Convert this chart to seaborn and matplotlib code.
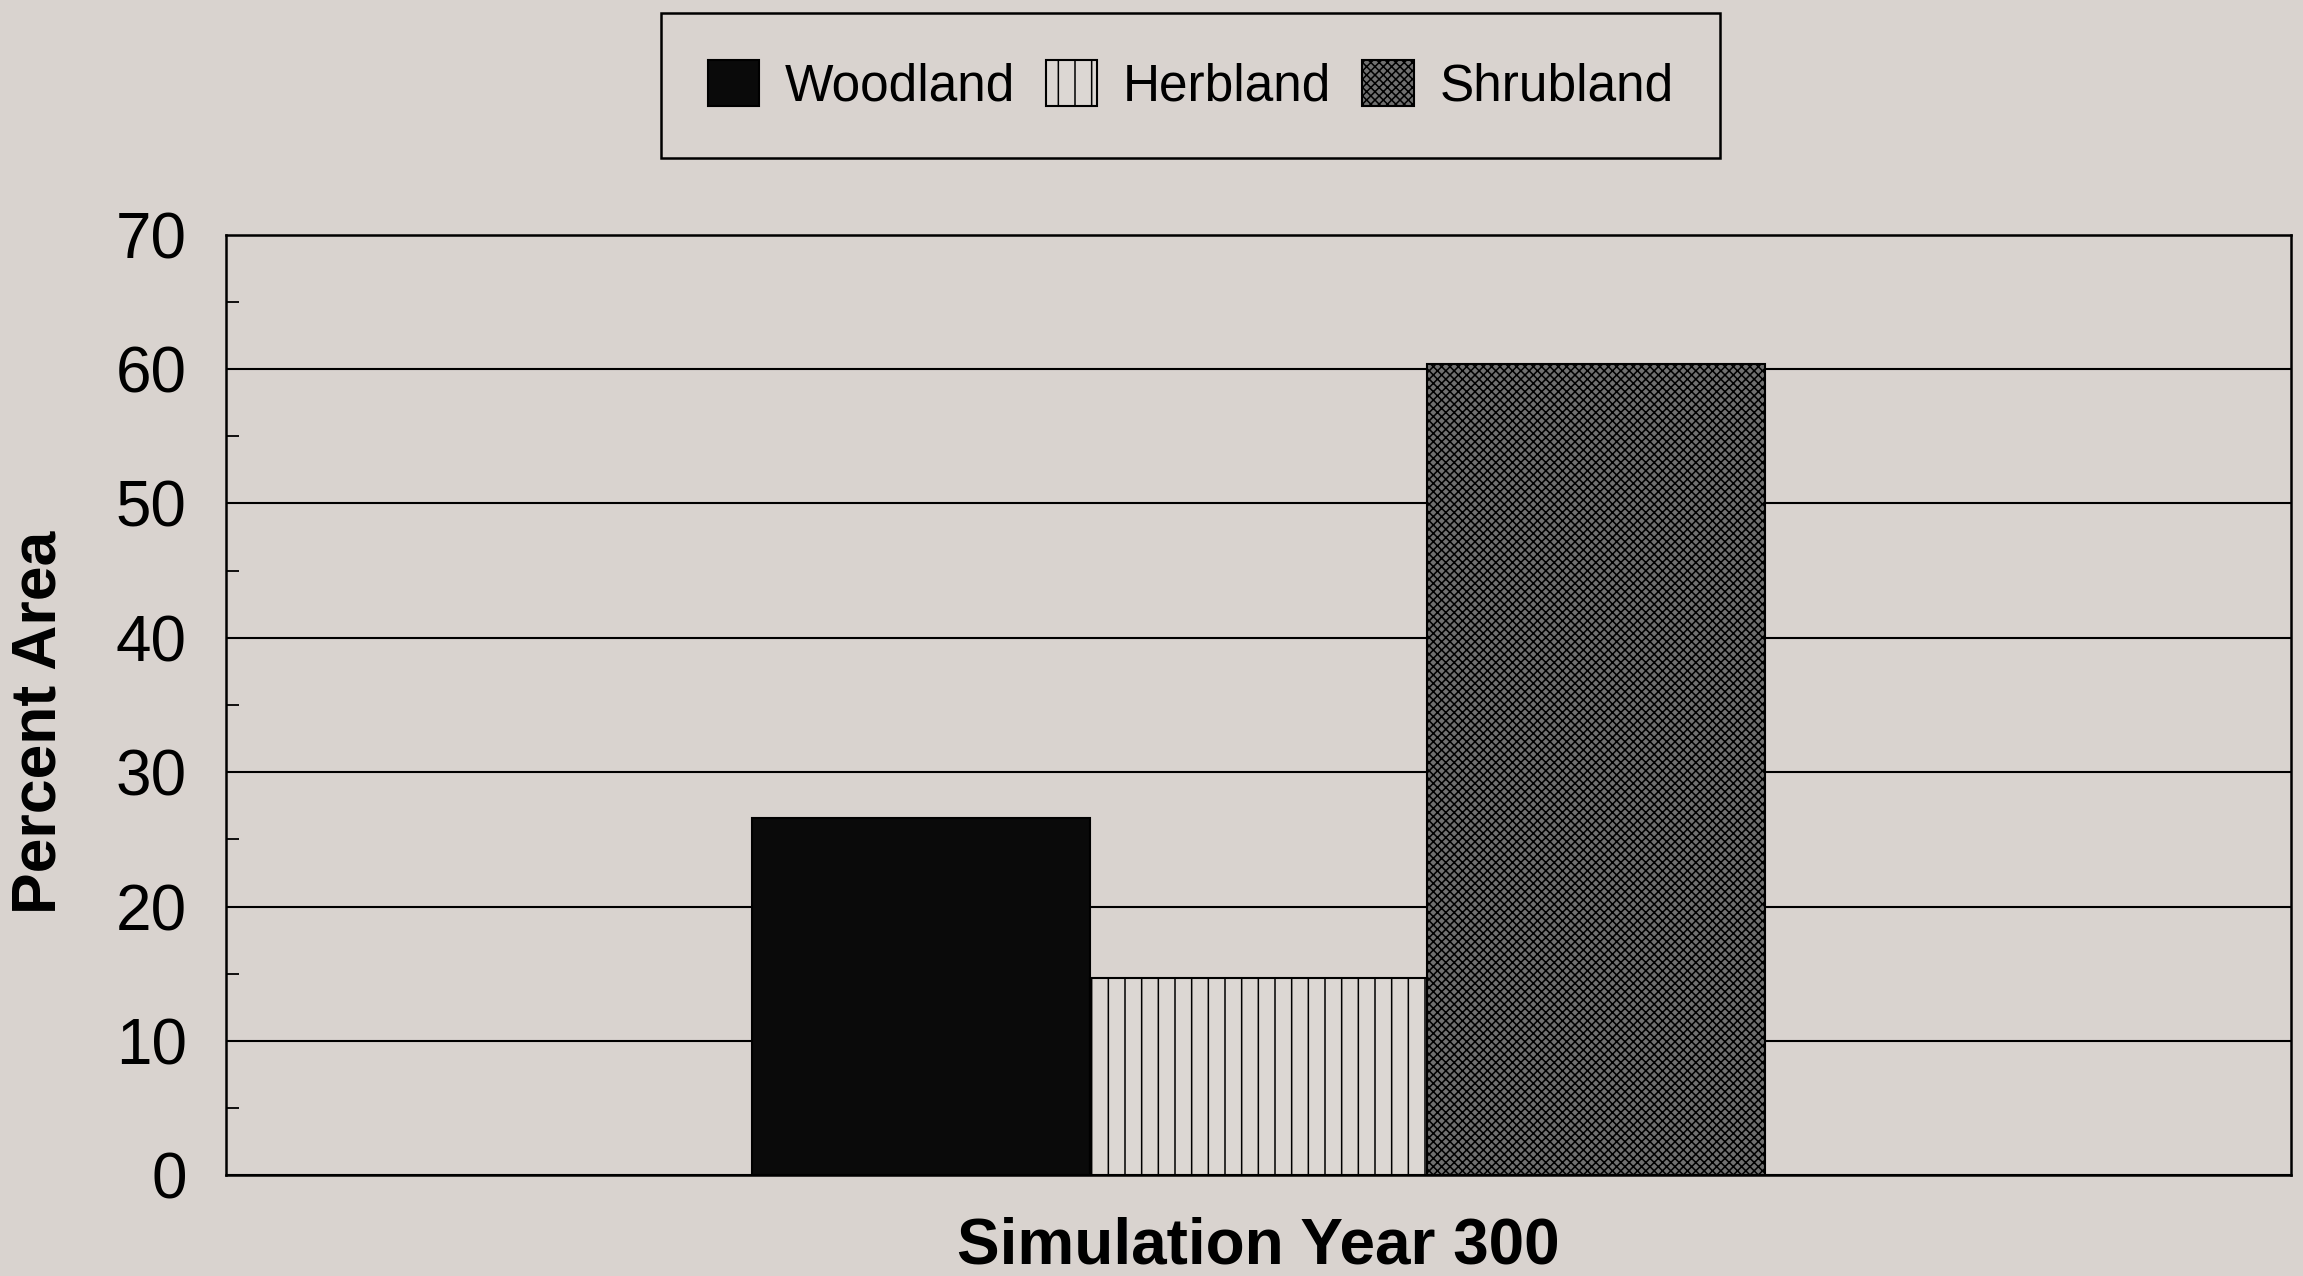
import pandas as pd
import matplotlib
matplotlib.use("Agg")
import matplotlib.pyplot as plt
import seaborn as sns

# values
covers = ['Woodland', 'Herbland', 'Shrubland']
percent_area = [26.6, 14.7, 60.4]
year_label = 'Simulation Year 300'

bar_colors = ['#0a0a0a', '#dcd7d3', '#707070']
bar_hatches = ['', '|', 'xxxx']
paper = '#d9d3cf'

df = pd.DataFrame({'year': [year_label] * len(covers),
                   'cover': covers,
                   'percent': percent_area})

sns.set_style('white')
plt.rcParams['font.family'] = ['Liberation Sans', 'DejaVu Sans']
plt.rcParams['hatch.linewidth'] = 1.1
plt.rcParams['text.color'] = 'black'
plt.rcParams['axes.labelcolor'] = 'black'
plt.rcParams['ytick.color'] = 'black'

fig = plt.figure(figsize=(23.03, 12.76), dpi=100, facecolor=paper)
ax = fig.add_axes([0.098, 0.079, 0.897, 0.737])
ax.set_facecolor(paper)

sns.barplot(data=df, x='year', y='percent', hue='cover', hue_order=covers,
            palette=bar_colors, width=0.49, edgecolor='black', linewidth=1.5,
            saturation=1, legend=False, ax=ax)

for container, hatch in zip(ax.containers, bar_hatches):
    for bar in container:
        bar.set_hatch(hatch)
        bar.set_zorder(3)

ax.set_xlim(-0.5, 0.5)
ax.set_ylim(0, 70)
ax.set_yticks(range(0, 71, 10))
ax.set_yticks(range(5, 70, 10), minor=True)
ax.tick_params(axis='y', which='major', length=0, pad=28, labelsize=46,
               labelcolor='black')
ax.tick_params(axis='y', which='minor', direction='in', length=9, width=1.3,
               color='black', left=True)
ax.set_xticks([])
ax.yaxis.grid(True, which='major', color='black', linewidth=1.5, zorder=0)
ax.set_axisbelow(True)
for spine in ax.spines.values():
    spine.set_visible(True)
    spine.set_color('black')
    spine.set_linewidth(1.8)

ax.set_xlabel(year_label, fontsize=46, fontweight='bold', labelpad=30,
              color='black')
ax.set_ylabel('Percent Area', fontsize=45, fontweight='bold', color='black')
ax.yaxis.set_label_coords(-0.076, 0.482)

leg = fig.legend(ax.containers, covers, loc='center', ncol=3,
                 bbox_to_anchor=(0.517, 0.933), fontsize=37, frameon=True,
                 fancybox=False, edgecolor='black', facecolor=paper,
                 handlelength=1.0, handleheight=1.0, handletextpad=0.5,
                 columnspacing=0.6, borderpad=0.9)
leg.get_frame().set_linewidth(1.8)
leg.get_frame().set_alpha(1)
for text in leg.get_texts():
    text.set_color('black')

fig.savefig('out.png', dpi=100, facecolor=paper)
